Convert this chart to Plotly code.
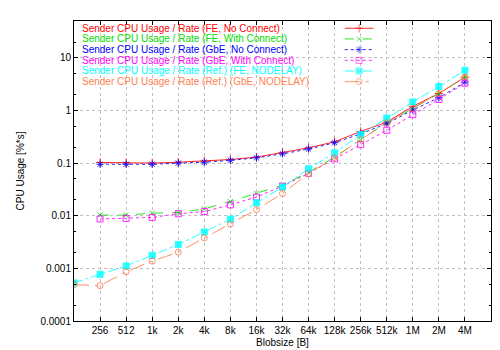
import plotly.graph_objects as go

# ---- data ----
x_labels = ["256", "512", "1k", "2k", "4k", "8k", "16k", "32k", "64k", "128k",
            "256k", "512k", "1M", "2M", "4M"]
x_sizes = [256, 512, 1024, 2048, 4096, 8192, 16384, 32768, 65536, 131072,
           262144, 524288, 1048576, 2097152, 4194304]
x_sizes_ref = [128] + x_sizes

fe_no_connect = [0.103, 0.102, 0.100, 0.104, 0.109, 0.117, 0.130, 0.157, 0.195,
                 0.254, 0.40, 0.60, 1.20, 2.10, 4.30]
fe_with_connect = [0.0103, 0.0103, 0.0112, 0.0115, 0.0135, 0.0186, 0.0268, 0.038,
                   0.067, 0.130, 0.28, 0.58, 1.09, 2.10, 4.30]
gbe_no_connect = [0.095, 0.095, 0.095, 0.100, 0.104, 0.113, 0.126, 0.150, 0.185,
                  0.244, 0.36, 0.56, 1.02, 1.75, 3.45]
gbe_with_connect = [0.0087, 0.0089, 0.0093, 0.0109, 0.0120, 0.0161, 0.0227, 0.0366,
                    0.064, 0.120, 0.224, 0.42, 0.83, 1.62, 3.30]
ref_fe_nodelay = [0.00053, 0.00077, 0.00111, 0.00177, 0.00285, 0.0049, 0.0086, 0.0176,
                  0.035, 0.078, 0.157, 0.35, 0.72, 1.45, 2.85, 5.8]
ref_gbe_nodelay = [0.00049, 0.00047, 0.00086, 0.00137, 0.00203, 0.0038, 0.0069, 0.0131,
                   0.0265, 0.063, 0.127, 0.28, 0.58, 1.09, 2.10, 4.30]

y_tickvals = [0.0001, 0.001, 0.01, 0.1, 1, 10]
y_ticktext = ["0.0001", "0.001", "0.01", "0.1", "1", "10"]

series = [
    ("Sender CPU Usage / Rate (FE, No Connect)", x_sizes, fe_no_connect,
     "#ff0000", "solid", "cross-thin-open", 6),
    ("Sender CPU Usage / Rate (FE, With Connect)", x_sizes, fe_with_connect,
     "#00e000", "dash", "x-thin-open", 5),
    ("Sender CPU Usage / Rate (GbE, No Connect)", x_sizes, gbe_no_connect,
     "#0000ff", "dot", "asterisk-open", 6),
    ("Sender CPU Usage / Rate (GbE, With Connect)", x_sizes, gbe_with_connect,
     "#ff00ff", "dot", "square-open", 6),
    ("Sender CPU Usage / Rate (Ref.) (FE, NODELAY)", x_sizes_ref, ref_fe_nodelay,
     "#00ffff", "dashdot", "square", 6),
    ("Sender CPU Usage / Rate (Ref.) (GbE, NODELAY)", x_sizes_ref, ref_gbe_nodelay,
     "#ff7f50", "longdashdot", "circle-open", 6),
]

FONT = "Liberation Sans, Arial, sans-serif"
fig = go.Figure()

for name, xs, ys, col, dash, sym, ms in series:
    fig.add_trace(go.Scatter(
        x=xs, y=ys, mode="lines+markers", name=name, showlegend=False,
        line=dict(color=col, width=1, dash=dash),
        marker=dict(symbol=sym, size=ms, color=col, line=dict(color=col, width=1)),
        opacity=0.85,
    ))

# ---- gnuplot-style key (text left, sample right) ----
L, R, T, B = 61, 17, 12, 29
W, H = 500, 350
pw, ph = W - L - R, H - T - B
row_y = [19.5, 30.5, 41.5, 52.5, 63.5, 74.5]
for i, (name, xs, ys, col, dash, sym, ms) in enumerate(series):
    yy = (H - B - row_y[i]) / ph
    fig.add_annotation(text=name, xref="paper", yref="paper",
                       x=(67 - L) / pw, y=yy, xanchor="left", yanchor="middle",
                       showarrow=False, font=dict(color=col, size=10, family=FONT))
    x0, x1 = (335 - L) / pw, (364 - L) / pw
    fig.add_trace(go.Scatter(
        x=[x0, (x0 + x1) / 2, x1], y=[yy, yy, yy], xaxis="x2", yaxis="y2",
        mode="lines+markers", showlegend=False, hoverinfo="skip",
        line=dict(color=col, width=1, dash=dash),
        marker=dict(symbol=sym, size=[0, ms, 0], color=col,
                    line=dict(color=col, width=1)),
        opacity=0.85,
    ))

fig.update_layout(
    width=W, height=H,
    margin=dict(l=L, r=R, t=T, b=B),
    paper_bgcolor="white", plot_bgcolor="white",
    font=dict(family=FONT, size=10, color="black"),
    xaxis=dict(
        type="log", range=[2.10721, 6.92369],
        tickvals=x_sizes, ticktext=x_labels,
        ticks="inside", ticklen=4, tickcolor="black",
        showline=True, linecolor="black", linewidth=1, mirror="ticks",
        showgrid=True, gridcolor="#c0c0c0", griddash="dot", gridwidth=1,
        zeroline=False,
        title=dict(text="Blobsize [B]", font=dict(size=10), standoff=3),
    ),
    yaxis=dict(
        type="log", range=[-4, 1.70],
        tickvals=y_tickvals, ticktext=y_ticktext,
        ticks="inside", ticklen=4, tickcolor="black",
        showline=True, linecolor="black", linewidth=1, mirror="ticks",
        showgrid=True, gridcolor="#c0c0c0", griddash="dot", gridwidth=1,
        zeroline=False,
        minor=dict(ticks="inside", ticklen=2, tickcolor="black", dtick="D2",
                   showgrid=False),
        title=dict(text="CPU Usage [%*s]", font=dict(size=10), standoff=13),
    ),
    xaxis2=dict(overlaying="x", range=[0, 1], visible=False, fixedrange=True),
    yaxis2=dict(overlaying="y", range=[0, 1], visible=False, fixedrange=True),
)

fig.write_html("out.html")
